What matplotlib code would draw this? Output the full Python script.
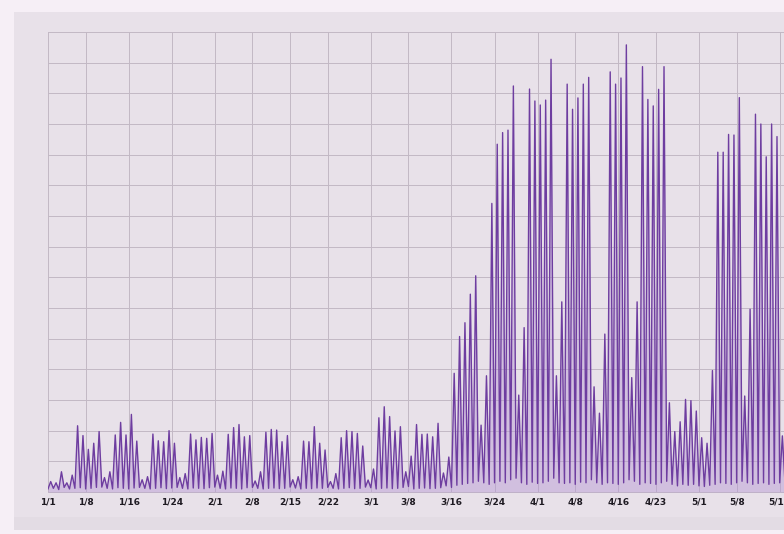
import numpy as np
import matplotlib
matplotlib.use("Agg")
import matplotlib.pyplot as plt
from matplotlib.patches import Rectangle

# daily peak level (grid units), one row per week, Mon..Sun (first row starts Wed 1/1/2020)
peaks = [
    0.34, 0.30, 0.66, 0.30, 0.55,
    2.16, 1.84, 1.39, 1.59, 1.97, 0.47, 0.66,
    1.86, 2.27, 1.86, 2.53, 1.66, 0.40, 0.50,
    1.89, 1.67, 1.64, 2.00, 1.59, 0.47, 0.60,
    1.89, 1.70, 1.78, 1.75, 1.91, 0.55, 0.68,
    1.88, 2.10, 2.20, 1.80, 1.84, 0.36, 0.66,
    1.95, 2.04, 2.02, 1.64, 1.84, 0.40, 0.50,
    1.66, 1.64, 2.13, 1.59, 1.37, 0.34, 0.60,
    1.77, 2.00, 1.97, 1.91, 1.50, 0.39, 0.75,
    2.42, 2.78, 2.46, 1.99, 2.13, 0.66, 1.17,
    2.20, 1.88, 1.89, 1.80, 2.24, 0.62, 1.14,
    3.87, 5.07, 5.52, 6.45, 7.05, 2.18, 3.79,
    9.41, 11.34, 11.72, 11.80, 13.24, 3.16, 5.36,
    13.14, 12.75, 12.62, 12.78, 14.11, 3.79, 6.20,
    13.30, 12.48, 12.85, 13.30, 13.52, 3.43, 2.57,
    5.15, 13.70, 13.30, 13.50, 14.58, 3.73, 6.20,
    13.87, 12.80, 12.59, 13.13, 13.87, 2.91, 1.97,
    2.29, 3.02, 2.98, 2.64, 1.77, 1.59, 3.96,
    11.08, 11.08, 11.66, 11.64, 12.86, 3.13, 5.96,
    12.32, 12.00, 10.93, 12.00, 11.59, 1.83, 2.60,
]

# night minimum at the start of each day (plus one closing value)
troughs = [
    0.10, 0.12, 0.08, 0.15, 0.10,
    0.12, 0.14, 0.10, 0.12, 0.15, 0.16, 0.12,
    0.10, 0.14, 0.12, 0.10, 0.13, 0.15, 0.12,
    0.10, 0.12, 0.14, 0.11, 0.13, 0.15, 0.12,
    0.10, 0.13, 0.12, 0.11, 0.14, 0.16, 0.12,
    0.10, 0.13, 0.12, 0.10, 0.14, 0.15, 0.12,
    0.10, 0.12, 0.13, 0.11, 0.12, 0.16, 0.13,
    0.10, 0.12, 0.11, 0.13, 0.12, 0.15, 0.12,
    0.10, 0.12, 0.14, 0.11, 0.12, 0.16, 0.14,
    0.10, 0.12, 0.13, 0.11, 0.12, 0.15, 0.18,
    0.10, 0.12, 0.13, 0.11, 0.12, 0.14, 0.20,
    0.15, 0.22, 0.25, 0.28, 0.30, 0.35, 0.30,
    0.25, 0.30, 0.35, 0.30, 0.40, 0.45, 0.30,
    0.25, 0.32, 0.28, 0.30, 0.35, 0.45, 0.30,
    0.28, 0.30, 0.25, 0.32, 0.30, 0.40, 0.30,
    0.25, 0.30, 0.28, 0.25, 0.30, 0.40, 0.35,
    0.25, 0.30, 0.28, 0.25, 0.30, 0.35, 0.25,
    0.20, 0.25, 0.22, 0.25, 0.20, 0.18, 0.22,
    0.25, 0.30, 0.28, 0.25, 0.30, 0.35, 0.30,
    0.25, 0.28, 0.30, 0.25, 0.28, 0.30, 0.25,
    0.20,
]

tick_dates = ["2020-01-01", "2020-01-08", "2020-01-16", "2020-01-24", "2020-02-01",
              "2020-02-08", "2020-02-15", "2020-02-22", "2020-03-01", "2020-03-08",
              "2020-03-16", "2020-03-24", "2020-04-01", "2020-04-08", "2020-04-16",
              "2020-04-23", "2020-05-01", "2020-05-08", "2020-05-16"]
tick_labels = ["1/1", "1/8", "1/16", "1/24", "2/1", "2/8", "2/15", "2/22", "3/1", "3/8",
               "3/16", "3/24", "4/1", "4/8", "4/16", "4/23", "5/1", "5/8", "5/16"]

assert len(troughs) == len(peaks) + 1

# build the zig-zag: trough at midnight, peak at midday
n = len(peaks)
t = np.empty(2 * n + 1)
v = np.empty(2 * n + 1)
t[0::2] = np.arange(n + 1)
t[1::2] = np.arange(n) + 0.5
v[0::2] = troughs
v[1::2] = peaks

start = np.datetime64("2020-01-01")
tick_pos = (np.array(tick_dates, dtype="datetime64[D]") - start).astype(int)

W, H = 784, 534
fig = plt.figure(figsize=(W / 100, H / 100), dpi=100, facecolor="#f6eff6")
fig.patches.append(Rectangle((14 / W, 4 / H), 1, (H - 16) / H, transform=fig.transFigure,
                             facecolor="#e8e1e9", edgecolor="none", zorder=-2))
fig.patches.append(Rectangle((14 / W, 4 / H), 1, 13 / H, transform=fig.transFigure,
                             facecolor="#e3dce4", edgecolor="none", zorder=-1))

px_per_day = 5.38
ax_w = 760
ax = fig.add_axes([48 / W, (H - 492) / H, ax_w / W, 460 / H])
ax.set_facecolor("none")
ax.set_xlim(0, ax_w / px_per_day)
ax.set_ylim(0, 15)

ax.fill_between(t, v, 0, color="#b596d3", alpha=0.45, linewidth=0)
ax.plot(t, v, color="#6e3da0", lw=1.0)

ax.set_xticks(tick_pos)
ax.set_xticklabels(tick_labels, fontsize=6.5, fontweight="bold", color="#1e1a22")
ax.set_yticks(np.arange(0, 16))
ax.set_yticklabels([])
ax.tick_params(length=0, pad=4)
ax.grid(True, color="#c2b8c4", lw=0.7)
ax.set_axisbelow(True)
for s in ax.spines.values():
    s.set_visible(False)
for gl in ax.get_ygridlines():
    gl.set_clip_on(False)

fig.savefig("out.png", dpi=100, facecolor=fig.get_facecolor())
